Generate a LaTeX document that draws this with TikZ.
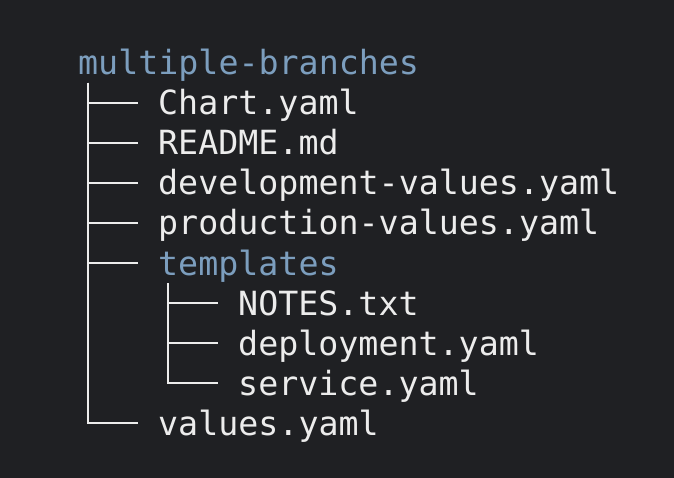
\documentclass[tikz,border=0pt]{standalone}
\usepackage{fontspec}
\setmonofont{DejaVu Sans Mono}
\definecolor{termbg}{RGB}{31,32,35}
\definecolor{dirblue}{RGB}{124,158,190}
\definecolor{filewhite}{RGB}{236,236,236}

\begin{document}
\begin{tikzpicture}[x=1pt,y=-1pt,
	entry/.style={anchor=base west,inner sep=0pt,text height=26pt,text depth=2pt,
		font=\ttfamily\fontsize{33.3}{40}\selectfont,text=filewhite},
	dir/.style={entry,text=dirblue},
	branch/.style={draw=filewhite,line width=2.7pt}]
	\fill[termbg] (0,0) rectangle (674,478);
	\useasboundingbox (0,0) rectangle (674,478);
	\node[dir] (root) at (78,75) {multiple-branches};
	\node[entry] (chart) at (158,115) {Chart.yaml};
	\node[entry] (readme) at (158,155) {README.md};
	\node[entry] (devvals) at (158,195) {development-values.yaml};
	\node[entry] (prodvals) at (158,235) {production-values.yaml};
	\node[dir] (templates) at (158,275) {templates};
	\node[entry] (notes) at (238,315) {NOTES.txt};
	\node[entry] (deploy) at (238,355) {deployment.yaml};
	\node[entry] (service) at (238,395) {service.yaml};
	\node[entry] (values) at (158,435) {values.yaml};
	\coordinate (trunk) at (88,83);
	\coordinate (subtrunk) at (168,283);
	\foreach \n in {chart,readme,devvals,prodvals,templates,values}
		\draw[branch] (trunk) |- ([xshift=-20pt]\n.west);
	\foreach \n in {notes,deploy,service}
		\draw[branch] (subtrunk) |- ([xshift=-20pt]\n.west);
\end{tikzpicture}
\end{document}
